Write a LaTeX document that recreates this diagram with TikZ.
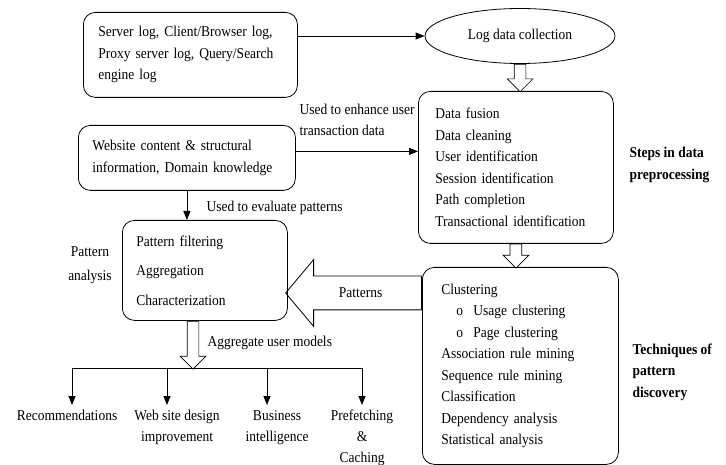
\documentclass[tikz,border=0pt]{standalone}
\usepackage{fontspec}
\setmainfont{Liberation Serif}[FakeStretch=0.9]
\usetikzlibrary{arrows.meta,calc,shapes.geometric,shapes.arrows}
\tikzset{
	box/.style={
			draw, rounded corners=12pt, line width=0.8pt, anchor=north west,
			align=left, inner xsep=15pt,
			font=\fontsize{15}{21.5}\selectfont
		},
	lbl/.style={align=left, font=\fontsize{15}{21}\selectfont},
	boldlbl/.style={align=left, font=\fontsize{15}{22}\selectfont\bfseries},
	outlbl/.style={align=center, anchor=north, inner sep=5pt,
			font=\fontsize{15}{21}\selectfont},
	arr/.style={-{Triangle[length=9pt,width=7pt]}, line width=0.8pt},
	hollowdown/.style={
			draw, single arrow, rotate=-90, anchor=tail, fill=white,
			single arrow head extend=7pt, single arrow tip angle=90,
			inner xsep=0pt, inner ysep=5.5pt, line width=0.7pt
		},
	hollowleft/.style={
			draw, single arrow, shape border rotate=180, anchor=tail,
			single arrow head extend=16.5pt, single arrow tip angle=100,
			text height=10pt, text depth=0pt, inner ysep=11.5pt, line width=0.8pt,
			font=\fontsize{15}{16}\selectfont
		}
}

\begin{document}
\begin{tikzpicture}[x=1pt, y=-1pt]
	\useasboundingbox (0,0) rectangle (726,465);

	% Log sources
	\node[box, minimum width=214pt, minimum height=85pt, text width=184pt, inner ysep=4pt] (srcbox) at (83,12)
	{Server log, Client/Browser log,\\Proxy server log, Query/Search\\engine log};

	% Log data collection
	\node[draw, ellipse, line width=0.8pt, minimum width=190pt, minimum height=55pt, inner sep=0pt,
		font=\fontsize{15}{16}\selectfont] (logcol) at (520,36) {Log data collection};
	\draw[arr] (srcbox.east |- logcol.west) -- (logcol.west);

	% Preprocessing steps
	\node[box, minimum width=195pt, minimum height=152pt, text width=161pt, inner xsep=17pt] (prep) at (418,91)
	{Data fusion\\Data cleaning\\User identification\\Session identification\\Path completion\\Transactional identification};
	\node[hollowdown, minimum height=27.5pt] (arrA) at (logcol.south) {};
	\node[boldlbl, anchor=west] (stepslbl) at (626,165) {Steps in data\\preprocessing};

	% Website content
	\node[box, minimum width=217pt, minimum height=65pt, text width=189pt, inner xsep=14pt] (webbox) at (78,125)
	{Website content \& structural\\information, Domain knowledge};
	\draw[arr] ([yshift=6.5pt]webbox.east) -- ([yshift=6.5pt]webbox.east -| prep.west);
	\node[lbl, anchor=west] (enhlbl) at (296,119.5) {Used to enhance user\\transaction data};

	% Pattern analysis
	\node[box, minimum width=165pt, minimum height=100pt, text width=137pt, inner xsep=14pt,
		font=\fontsize{15}{29.5}\selectfont] (patbox) at (122,220)
	{Pattern filtering\\Aggregation\\Characterization};
	\draw[arr] (webbox.south) -- (webbox.south |- patbox.north);
	\node[lbl, anchor=west] (evallbl) at (203,208) {Used to evaluate patterns};
	\node[lbl, align=center, font=\fontsize{15}{24}\selectfont] (palbl) at (90,265) {Pattern\\analysis};

	% Pattern discovery
	\node[box, minimum width=196pt, minimum height=197pt, text width=158pt, inner xsep=19pt] (disc) at (422,267)
	{Clustering\\
		\hspace*{15pt}\makebox[17pt][l]{o}Usage clustering\\
		\hspace*{15pt}\makebox[17pt][l]{o}Page clustering\\
		Association rule mining\\Sequence rule mining\\Classification\\Dependency analysis\\Statistical analysis};
	\node[hollowdown, minimum height=24pt] (arrB) at (prep.south) {};
	\node[boldlbl, font=\fontsize{15}{21.5}\selectfont\bfseries, anchor=west] (techlbl) at (629,372)
	{Techniques of\\pattern\\discovery};
	\node[hollowleft, minimum height=136pt] (patarr) at (disc.west |- 0,293) {Patterns};

	% Applications
	\coordinate (fanL) at (72,368);
	\coordinate (fanR) at (362,368);
	\coordinate (hub) at (193,368);
	\node[hollowdown, minimum height=48pt] (arrC) at (hub |- patbox.south) {};
	\node[lbl, anchor=west] (aggrlbl) at (204,343) {Aggregate user models};
	\draw[line width=0.8pt] (fanL) -- (fanR);

	\node[outlbl] (rec) at (67,405) {Recommendations};
	\node[outlbl] (web) at (177,405) {Web site design\\improvement};
	\node[outlbl] (bus) at (277,405) {Business\\intelligence};
	\node[outlbl] (pre) at (362,405) {Prefetching\\\&\\Caching};
	\foreach \n/\x in {rec/72, web/167, bus/267, pre/362}
	\draw[arr] (\x,368) -- (\x,368 |- \n.north);
\end{tikzpicture}
\end{document}
